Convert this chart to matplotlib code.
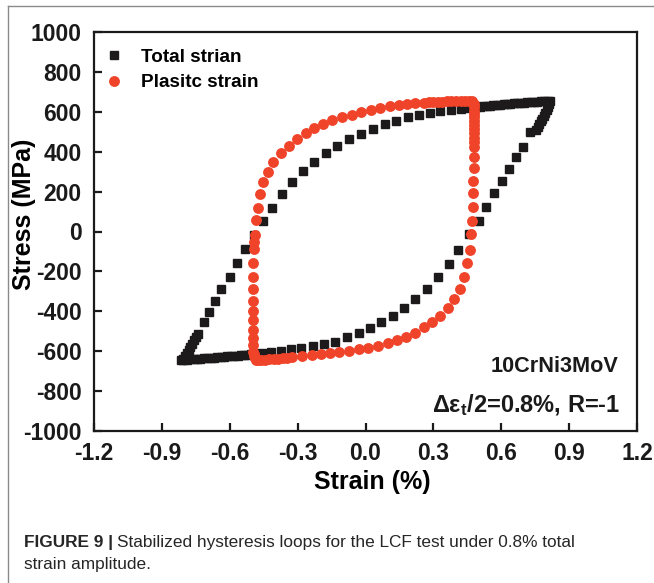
import matplotlib
matplotlib.use("Agg")
import matplotlib.pyplot as plt
from matplotlib.lines import Line2D

plt.rcParams["font.family"] = ["Liberation Sans", "DejaVu Sans"]
plt.rcParams["axes.unicode_minus"] = False
plt.rcParams["mathtext.fontset"] = "custom"
plt.rcParams["mathtext.rm"] = "Liberation Sans:bold"
plt.rcParams["mathtext.it"] = "Liberation Sans:bold"
plt.rcParams["mathtext.bf"] = "Liberation Sans:bold"

# Total strain loop (strain %, stress MPa), traversed from compressive tip
total_strain = [
    -0.805, -0.797, -0.790, -0.782, -0.774, -0.766, -0.758, -0.750, -0.742,
    -0.716, -0.691, -0.665, -0.637, -0.601, -0.569, -0.532, -0.493, -0.451,
    -0.415, -0.371, -0.324, -0.275, -0.228, -0.175, -0.124, -0.071, -0.018,
    0.034, 0.084, 0.137, 0.186, 0.237, 0.284, 0.331, 0.378, 0.422, 0.463,
    0.490, 0.505, 0.520, 0.535, 0.550, 0.565, 0.580, 0.595, 0.610, 0.625,
    0.640, 0.655, 0.670, 0.685, 0.700, 0.715, 0.730, 0.745, 0.760, 0.775,
    0.790, 0.805, 0.815,
    0.812, 0.806, 0.800, 0.794, 0.788, 0.782, 0.776, 0.769, 0.762, 0.755,
    0.728, 0.694, 0.665, 0.636, 0.605, 0.570, 0.534, 0.500, 0.457, 0.411,
    0.367, 0.319, 0.272, 0.220, 0.169, 0.120, 0.069, 0.019, -0.030, -0.081,
    -0.133, -0.184, -0.233, -0.284, -0.331, -0.375, -0.416, -0.456,
    -0.490, -0.505, -0.520, -0.535, -0.550, -0.565, -0.580, -0.595, -0.610,
    -0.625, -0.640, -0.655, -0.670, -0.685, -0.700, -0.715, -0.730, -0.745,
    -0.760, -0.775, -0.790, -0.805, -0.815,
]
total_stress = [
    -638, -624, -610, -595, -579, -563, -546, -529, -512,
    -452, -402, -348, -290, -227, -160, -89, -17, 54,
    119, 186, 247, 303, 350, 393, 430, 464, 491,
    515, 537, 555, 572, 584, 592, 602, 609, 612, 617,
    622, 625, 627, 629, 631, 633, 634, 636, 637, 639,
    640, 642, 643, 645, 646, 647, 649, 650, 651, 652,
    653, 655, 655,
    640, 625, 610, 595, 580, 566, 552, 538, 524, 510,
    500, 425, 372, 312, 252, 191, 121, 52, -13, -93,
    -163, -227, -288, -340, -385, -422, -455, -484, -510, -530,
    -552, -565, -574, -584, -590, -599, -602, -608,
    -614, -616, -618, -619, -621, -622, -624, -625, -626,
    -628, -629, -631, -632, -633, -635, -636, -637, -639,
    -640, -641, -643, -644, -645,
]

# Plastic strain loop (strain %, stress MPa)
plastic_strain = [
    -0.490, -0.493, -0.495, -0.496, -0.496, -0.496, -0.496, -0.496, -0.496,
    -0.496, -0.496, -0.496, -0.496, -0.495, -0.493, -0.490,
    -0.485, -0.474, -0.466, -0.451, -0.429, -0.407, -0.375, -0.338, -0.301,
    -0.265, -0.228, -0.189, -0.147, -0.103, -0.059, -0.018, 0.025, 0.066,
    0.107, 0.147, 0.184, 0.220, 0.257, 0.280, 0.300, 0.320, 0.340, 0.360,
    0.380, 0.400, 0.420, 0.440, 0.458, 0.472,
    0.479, 0.480, 0.480, 0.480, 0.480, 0.480, 0.480, 0.480, 0.480, 0.480,
    0.480, 0.480, 0.480, 0.480, 0.477, 0.477, 0.475, 0.470, 0.466,
    0.460, 0.448, 0.437, 0.416, 0.393, 0.365, 0.331, 0.294, 0.257, 0.217,
    0.181, 0.140, 0.098, 0.056, 0.012, -0.030, -0.074, -0.115, -0.155,
    -0.196, -0.238, -0.279, -0.324, -0.345, -0.365, -0.385, -0.405, -0.425,
    -0.445, -0.460, -0.475, -0.486,
]
plastic_stress = [
    -636, -624, -613, -602, -569, -535, -494, -444, -397,
    -348, -290, -227, -160, -90, -53, -17,
    56, 119, 186, 247, 300, 350, 392, 430, 464,
    492, 517, 538, 558, 572, 584, 598, 610, 621,
    629, 634, 639, 643, 646, 648, 649, 650, 651, 652,
    653, 654, 655, 655, 655, 652,
    638, 622, 606, 590, 572, 554, 535, 514, 492, 470,
    447, 425, 372, 317, 255, 191, 124, 52, -13,
    -93, -160, -227, -288, -340, -385, -422, -452, -480, -507,
    -527, -544, -560, -574, -584, -590, -597, -604, -610,
    -616, -621, -626, -631, -633, -635, -637, -639, -640,
    -642, -643, -644, -642,
]

x_ticks = [-1.2, -0.9, -0.6, -0.3, 0.0, 0.3, 0.6, 0.9, 1.2]
y_ticks = list(range(-1000, 1001, 200))

W, H = 654, 583
fig = plt.figure(figsize=(W / 100, H / 100), dpi=100)

def fx(px):
    return px / W

def fy(py):
    return 1 - py / H

ax = fig.add_axes([fx(94), fy(431), fx(637) - fx(94), fy(32) - fy(431)])

black = "#1c1a1b"
red = "#f0442a"
ax.plot(total_strain, total_stress, ls="none", marker="s", ms=5.2,
        color=black, mec=black, label="Total strian", zorder=2)
ax.plot(plastic_strain, plastic_stress, ls="none", marker="o", ms=6.8,
        color=red, mec=red, label="Plasitc strain", zorder=3)

ax.set_xlim(-1.2, 1.2)
ax.set_ylim(-1000, 1000)
ax.set_xticks(x_ticks)
ax.set_xticklabels([f"{t:.1f}" for t in x_ticks])
ax.set_yticks(y_ticks)
ax.set_yticklabels([str(t) for t in y_ticks])
ax.tick_params(direction="in", length=6, width=1.6, labelsize=16.5,
               colors="#1a1a1a")
ax.tick_params(axis="x", pad=8)
ax.tick_params(axis="y", pad=9)
for lab in ax.get_xticklabels() + ax.get_yticklabels():
    lab.set_fontweight("bold")
for sp in ax.spines.values():
    sp.set_linewidth(1.6)
    sp.set_color("#1a1a1a")

ax.set_xlabel("Strain (%)", fontsize=18, fontweight="bold")
ax.set_ylabel("Stress (MPa)", fontsize=18, fontweight="bold")
ax.xaxis.set_label_coords(0.512, -0.098)
ax.yaxis.set_label_coords(-0.107, 0.544)

leg = ax.legend(loc="upper left", bbox_to_anchor=(-0.004, 0.992),
                frameon=False, fontsize=13.6, handlelength=1.0,
                handletextpad=0.9, labelspacing=0.45, borderaxespad=0.3,
                borderpad=0.4)
for t in leg.get_texts():
    t.set_fontweight("bold")

ax.text(0.965, 0.161, "10CrNi3MoV", transform=ax.transAxes, ha="right",
        va="center", fontsize=15.6, fontweight="bold", color="#1a1a1a")
ax.text(0.969, 0.066, r"Δε$_t$/2=0.8%, R=-1", transform=ax.transAxes,
        ha="right", va="center", fontsize=17, fontweight="bold",
        color="#1a1a1a")

# Caption
cap_color = "#262626"
cap_size = 12.4
t1 = fig.text(fx(24), fy(542), "FIGURE 9 |", fontsize=cap_size,
              fontweight="bold", color=cap_color, va="center", ha="left")
fig.canvas.draw()
bb = t1.get_window_extent()
fig.text((bb.x1 + 4) / W, fy(542),
         "Stabilized hysteresis loops for the LCF test under 0.8% total",
         fontsize=cap_size, color=cap_color, va="center", ha="left")
fig.text(fx(24), fy(565), "strain amplitude.", fontsize=cap_size,
         color=cap_color, va="center", ha="left")

# Panel frame lines
fig.add_artist(Line2D([fx(8), 1], [fy(6), fy(6)], color="#8a8a8a", lw=1.0))
fig.add_artist(Line2D([fx(8), fx(8)], [fy(6), 0], color="#8a8a8a", lw=1.0))

fig.savefig("out.png", dpi=100)
